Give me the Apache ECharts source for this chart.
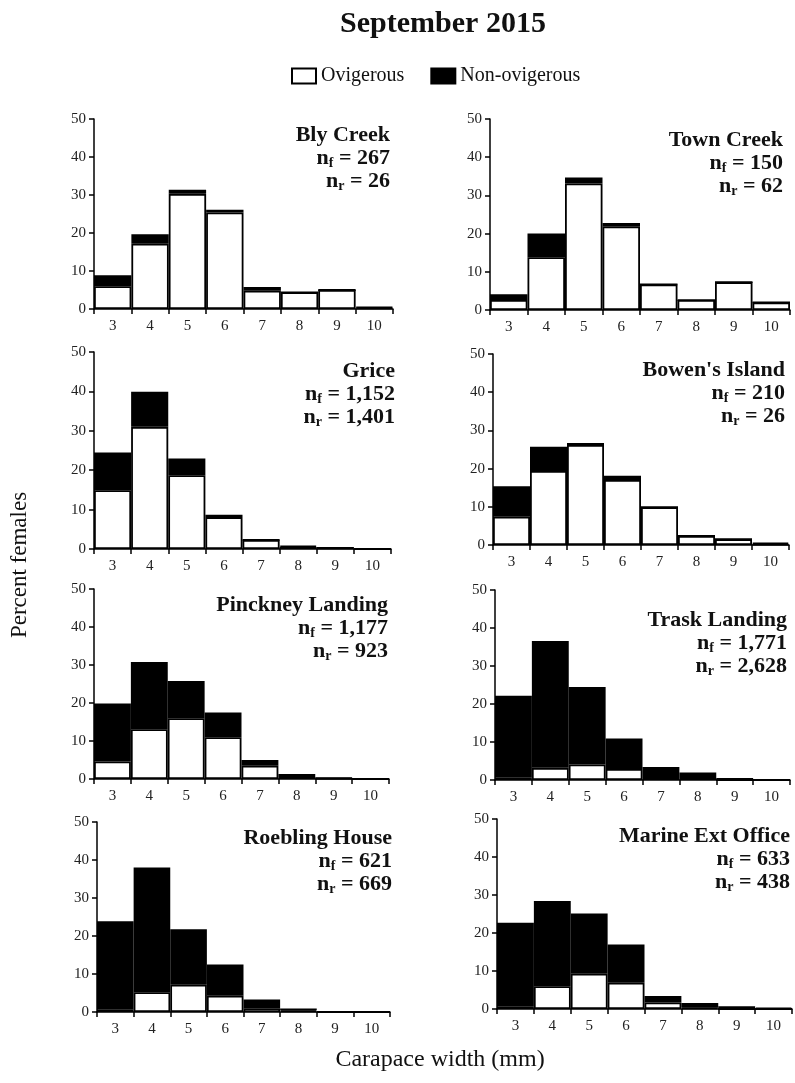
<!DOCTYPE html>
<html><head><meta charset="utf-8">
<script src="https://cdn.jsdelivr.net/npm/echarts@6/dist/echarts.min.js"></script>
<style>html,body{margin:0;padding:0;background:#fff}#c{width:795px;height:1083px}</style>
</head><body><div id="c"></div>
<script>
// ---- data ----
const categories = ['3','4','5','6','7','8','9','10'];
const siteNames = ['Bly Creek','Town Creek','Grice',"Bowen's Island",'Pinckney Landing','Trask Landing','Roebling House','Marine Ext Office'];
const nF = ['267','150','1,152','210','1,177','1,771','621','633'];
const nR = ['26','62','1,401','26','923','2,628','669','438'];

const ovBly      = [6.0, 17.2, 30.3, 25.4, 4.8, 4.4, 5.0, 0.3];
const nonBly     = [2.9, 2.5, 1.1, 0.7, 1.0, 0, 0, 0.3];
const ovTown     = [2.6, 13.8, 33.1, 21.9, 6.7, 2.6, 7.3, 2.0];
const nonTown    = [1.5, 6.2, 1.6, 0.9, 0, 0, 0, 0];
const ovGrice    = [14.9, 31.0, 18.7, 8.1, 2.3, 0.5, 0.3, 0];
const nonGrice   = [9.6, 8.9, 4.3, 0.6, 0, 0.3, 0, 0];
const ovBowen    = [7.4, 19.4, 26.2, 17.0, 9.9, 2.4, 1.5, 0.2];
const nonBowen   = [8.0, 6.3, 0.5, 1.1, 0, 0, 0, 0.4];
const ovPinckney = [4.6, 13.1, 16.0, 11.0, 3.5, 0.5, 0.2, 0];
const nonPinckney= [15.3, 17.7, 9.8, 6.5, 1.5, 0.8, 0, 0];
const ovTrask    = [0.6, 3.2, 4.1, 2.9, 0.8, 0.5, 0, 0];
const nonTrask   = [21.6, 33.4, 20.4, 8.0, 2.6, 1.5, 0.5, 0];
const ovRoebling = [0.6, 5.2, 7.2, 4.3, 1.0, 0.4, 0, 0];
const nonRoebling= [23.3, 32.8, 14.6, 8.2, 2.3, 0.5, 0, 0];
const ovMarine   = [0.7, 6.0, 9.3, 6.9, 1.7, 0.3, 0, 0];
const nonMarine  = [22.0, 22.4, 15.8, 10.1, 1.7, 1.3, 0.7, 0.35];

const ovAll  = [ovBly, ovTown, ovGrice, ovBowen, ovPinckney, ovTrask, ovRoebling, ovMarine];
const nonAll = [nonBly, nonTown, nonGrice, nonBowen, nonPinckney, nonTrask, nonRoebling, nonMarine];

// ---- layout ----
const FONT = '"Liberation Serif", "Times New Roman", serif';
const grids = [
  {left: 94,  top: 119, width: 299, height: 190},
  {left: 490, top: 119, width: 300, height: 191},
  {left: 94,  top: 352, width: 297, height: 197},
  {left: 493, top: 354, width: 296, height: 191},
  {left: 94,  top: 589, width: 295, height: 190},
  {left: 495, top: 590, width: 295, height: 190},
  {left: 97,  top: 822, width: 293, height: 190},
  {left: 497, top: 819, width: 295, height: 190}
];
const labelAnchor = [
  [390, 124], [783, 129], [395, 360], [785, 359],
  [388, 594], [787, 609], [392, 827], [790, 825]
];

const option = {
  animation: false,
  backgroundColor: '#fff',
  legend: {
    data: ['Ovigerous', 'Non-ovigerous'],
    left: 286, top: 61,
    itemWidth: 24, itemHeight: 15, itemGap: 26,
    icon: 'rect', selectedMode: false,
    textStyle: {fontFamily: FONT, fontSize: 20, color: '#111'}
  },
  grid: [], xAxis: [], yAxis: [], series: [], graphic: []
};

const axisLabelStyle = {fontFamily: FONT, fontSize: 15, color: '#222'};
grids.forEach((g, i) => {
  option.grid.push(Object.assign({}, g, {containLabel: false}));
  option.xAxis.push({
    gridIndex: i, type: 'category', data: categories,
    axisLine: {lineStyle: {color: '#000', width: 1.5}},
    axisTick: {show: true, interval: 0, length: 5, lineStyle: {color: '#000', width: 1.5}},
    axisLabel: Object.assign({interval: 0, margin: 10}, axisLabelStyle),
    splitLine: {show: false}
  });
  option.yAxis.push({
    gridIndex: i, type: 'value', min: 0, max: 50, interval: 10,
    axisLine: {show: true, lineStyle: {color: '#000', width: 1.5}},
    axisTick: {show: true, length: 5, lineStyle: {color: '#000', width: 1.5}},
    axisLabel: Object.assign({margin: 8}, axisLabelStyle),
    splitLine: {show: false}
  });
  option.series.push({
    type: 'bar', name: 'Ovigerous', xAxisIndex: i, yAxisIndex: i, stack: 's' + i,
    data: ovAll[i], barCategoryGap: '0%',
    itemStyle: {color: '#fff', borderColor: '#000', borderWidth: 1.8}
  });
  option.series.push({
    type: 'bar', name: 'Non-ovigerous', xAxisIndex: i, yAxisIndex: i, stack: 's' + i,
    data: nonAll[i], barCategoryGap: '0%',
    itemStyle: {color: '#000', borderColor: '#000', borderWidth: 1.8}
  });
  const richBase = {fontFamily: FONT, fontWeight: 'bold', fontSize: 22, lineHeight: 23, align: 'right', fill: '#111'};
  option.graphic.push({
    type: 'text', x: labelAnchor[i][0], y: labelAnchor[i][1], z: 100,
    style: {
      text: '{b|' + siteNames[i] + '}\n{b|n}{s|f}{b| = ' + nF[i] + '}\n{b|n}{s|r}{b| = ' + nR[i] + '}',
      align: 'right', verticalAlign: 'top',
      rich: {
        b: richBase,
        s: {fontFamily: FONT, fontWeight: 'bold', fontSize: 14, lineHeight: 14, padding: [3, 0, 0, 0], align: 'right', verticalAlign: 'bottom', fill: '#111'}
      }
    }
  });
});

option.graphic.push(
  {type: 'text', x: 443, y: 9, style: {text: 'September 2015', font: 'bold 30px ' + FONT, fill: '#111', align: 'center', verticalAlign: 'top'}},
  {type: 'text', x: 20, y: 565, rotation: Math.PI / 2, style: {text: 'Percent females', font: '23px ' + FONT, fill: '#111', align: 'center', verticalAlign: 'middle'}},
  {type: 'text', x: 440, y: 1060, style: {text: 'Carapace width (mm)', font: '24px ' + FONT, fill: '#111', align: 'center', verticalAlign: 'middle'}}
);

const chart = echarts.init(document.getElementById('c'));
chart.setOption(option);
</script></body></html>
